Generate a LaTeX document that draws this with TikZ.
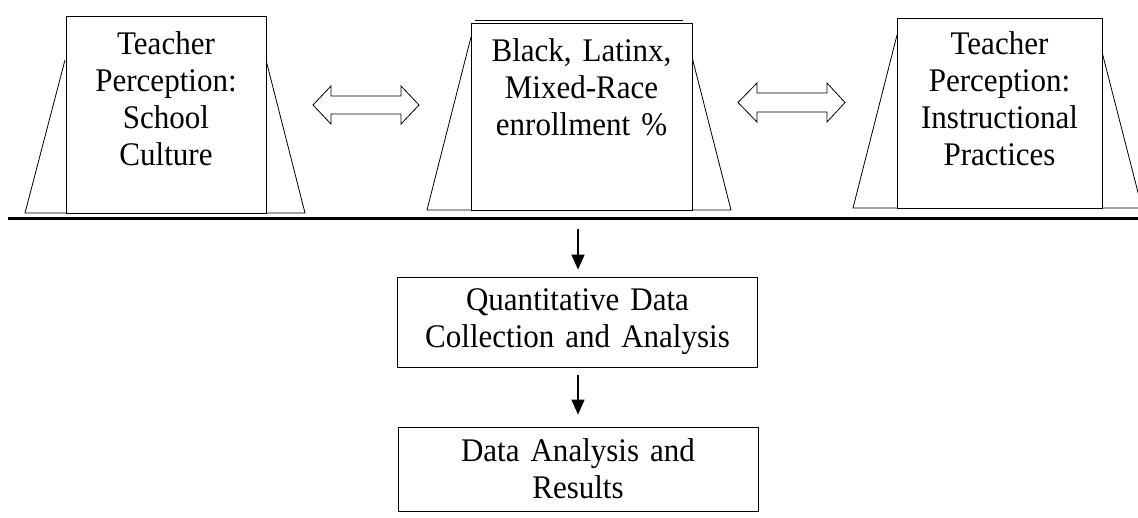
\documentclass[tikz,border=0pt]{standalone}
\usepackage{fontspec}
\setmainfont[FakeStretch=0.94]{Liberation Serif}
\usetikzlibrary{arrows.meta}
\begin{document}
\begin{tikzpicture}[x=1pt,y=-1pt,
  panel/.style={draw, line width=0.8pt, fill=white, inner sep=0pt},
  trap/.style={draw, line width=0.8pt},
  txt/.style={inner sep=0pt, align=center, text width=230pt,
    font=\fontsize{33}{37}\selectfont},
  flowbox/.style={draw, line width=0.8pt, inner sep=0pt, align=center,
    text width=356pt, minimum width=360pt,
    font=\fontsize{33}{37}\selectfont},
  blk/.style={draw, line width=0.8pt, fill=white, line join=miter},
  arr/.style={line width=1.5pt, -{Triangle[length=15pt,width=13pt]}}]
\useasboundingbox (0,0) rectangle (1138,518);
% left block
\draw[trap] (65,60) -- (25,213) -- (305,213) -- (266,60);
\node[panel, minimum width=200pt, minimum height=197pt] (r1) at (166,114.5) {};
\node[txt, anchor=base] (t1) at (166,55) {Teacher\\Perception:\\School\\Culture};
% middle block
\draw[trap] (471,37) -- (427,210) -- (731,210) -- (692,57);
\draw[line width=0.6pt] (475,20) -- (683,20);
\node[panel, minimum width=221pt, minimum height=187pt] (r2) at (581.5,116.5) {};
\node[txt, anchor=base] (t2) at (581.5,62) {Black, Latinx,\\Mixed-Race\\enrollment \%};
% right block
\draw[trap] (897,35) -- (853,208) -- (1142,208) -- (1102,52);
\node[panel, minimum width=205pt, minimum height=190pt] (r3) at (999.5,113) {};
\node[txt, anchor=base] (t3) at (999.5,55) {Teacher\\Perception:\\Instructional\\Practices};
% double block arrows
\draw[blk] (313,105) -- (331,86) -- (331,96) -- (401,96) -- (401,86) -- (419,105)
  -- (401,124) -- (401,114) -- (331,114) -- (331,124) -- cycle;
\draw[blk] (738,102.5) -- (757,83) -- (757,93) -- (827,93) -- (827,83) -- (845,102.5)
  -- (827,122) -- (827,112) -- (757,112) -- (757,122) -- cycle;
% base line
\draw[line width=3pt] (8,219) -- (1138,219);
% flow boxes
\node[flowbox, minimum height=90pt] (q) at (577.5,322) {Quantitative Data\\Collection and Analysis};
\node[flowbox, minimum height=84pt] (d) at (578,469) {Data Analysis and\\Results};
\coordinate (a1) at (578,229);
\draw[arr] (a1) -- ([yshift=7pt]q.north -| a1);
\draw[arr] ([yshift=-8pt]q.south -| a1) -- ([yshift=12pt]d.north -| a1);
\end{tikzpicture}
\end{document}
